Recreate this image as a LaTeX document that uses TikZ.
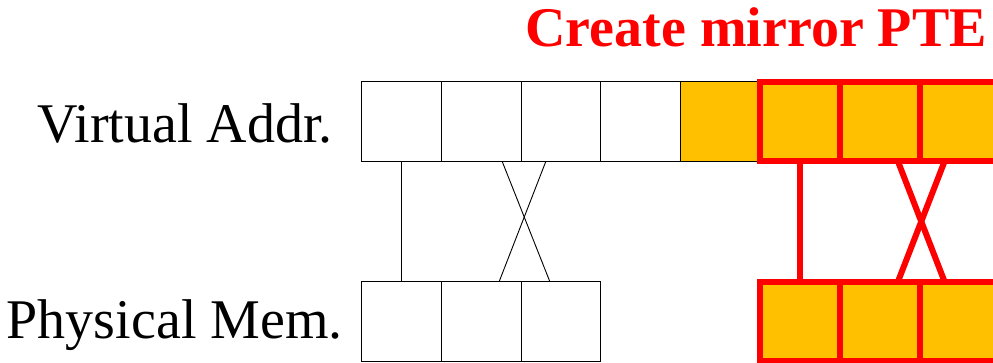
\documentclass[tikz,border=0pt]{standalone}
\usepackage{fontspec}
\setmainfont{Liberation Serif}
\definecolor{gold}{HTML}{FFC000}
\definecolor{hot}{HTML}{FF0000}
\begin{document}
\begin{tikzpicture}[x=1pt,y=-1pt,
  cell/.style={draw=black,line width=0.9pt,minimum width=79.75pt,minimum height=79.5pt,inner sep=0pt,outer sep=0pt},
  goldcell/.style={cell,fill=gold},
  redcell/.style={draw=hot,line width=6pt,fill=gold,minimum width=79.75pt,minimum height=79.5pt,inner sep=0pt,outer sep=0pt},
  thin link/.style={draw=black,line width=0.9pt},
  red link/.style={draw=hot,line width=6pt},
  lbl/.style={font=\fontsize{56}{60}\selectfont,anchor=base east,inner sep=0pt},
  ttl/.style={lbl,font=\fontsize{56}{60}\selectfont\bfseries,text=hot}]
\useasboundingbox (0,0) rectangle (993,363);
\clip (0,0) rectangle (993,363);
% top row
\node[cell] (v1) at (401.4,121.5) {};
\node[cell] (v2) at (481.1,121.5) {};
\node[cell] (v3) at (560.9,121.5) {};
\node[cell] (v4) at (640.6,121.5) {};
\node[goldcell] (v5) at (720.4,121.5) {};
\node[redcell] (v6) at (800.1,121.5) {};
\node[redcell] (v7) at (879.9,121.5) {};
\node[redcell] (v8) at (959.6,121.5) {};
% bottom row
\node[cell] (p1) at (401.4,321.5) {};
\node[cell] (p2) at (481.1,321.5) {};
\node[cell] (p3) at (560.9,321.5) {};
\node[redcell] (p6) at (800.1,321.5) {};
\node[redcell] (p7) at (879.9,321.5) {};
\node[redcell] (p8) at (959.6,321.5) {};
% links
\draw[thin link] (v1.south) -- (p1.north);
\draw[thin link] ([xshift=21pt]v2.south) -- ([xshift=-11pt]p3.north);
\draw[thin link] ([xshift=-15pt]v3.south) -- ([xshift=18pt]p2.north);
\draw[red link] (v6.south) -- (p6.north);
\draw[red link] ([xshift=18pt]v7.south) -- ([xshift=-15pt]p8.north);
\draw[red link] ([xshift=-15pt]v8.south) -- ([xshift=18pt]p7.north);
% labels
\node[lbl] (lv) at (333,143) {Virtual Addr.};
\node[lbl] (lp) at (343,338) {Physical Mem.};
\node[ttl] (title) at (987,47) {Create mirror PTE};
\end{tikzpicture}
\end{document}
